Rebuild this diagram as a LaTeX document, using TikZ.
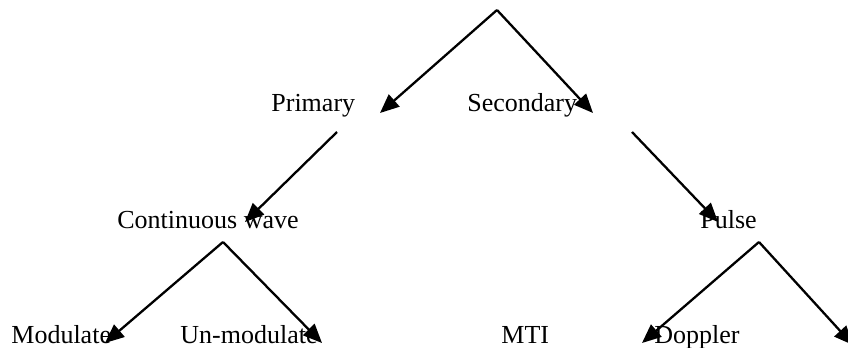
\documentclass[tikz,border=0pt]{standalone}
\usepackage{fontspec}
\setmainfont{Liberation Serif}
\usetikzlibrary{arrows.meta}

\begin{document}
\begin{tikzpicture}[x=0.5pt, y=-0.5pt, >={Triangle[length=9.5pt, width=8pt]},
  font=\fontsize{13}{15}\selectfont,
  lbl/.style={anchor=base west, inner sep=0pt},
  link/.style={->, line width=1.15pt}]
  \useasboundingbox (0,0) rectangle (848,348);
  % ---------------------------------------------------------------- labels
  \node[lbl] (primary)   at (271,112) {Primary};
  \node[lbl] (secondary) at (467,112) {Secondary};
  \node[lbl] (cw)        at (117,228) {Continuous wave};
  \node[lbl] (pulse)     at (700,228) {Pulse};
  \node[lbl] (modulated) at (11,343)  {Modulate};
  \node[lbl] (unmod)     at (180,343) {Un-modulate};
  \node[lbl] (mti)       at (501,343) {MTI};
  \node[lbl] (doppler)   at (654,343) {Doppler};
  % ---------------------------------------------------------------- branch points and tips
  \coordinate (top)     at (497,10);
  \coordinate (tprim)   at (380,113);
  \coordinate (tsec)    at (593,113);
  \coordinate (fprim)   at (337,132);
  \coordinate (tcw)     at (245,222);
  \coordinate (fsec)    at (632,132);
  \coordinate (tpulse)  at (718,222);
  \coordinate (fcw)     at (223,242);
  \coordinate (tmod)    at (105,343);
  \coordinate (tunmod)  at (322,343);
  \coordinate (fpulse)  at (759,242);
  \coordinate (tdop)    at (642,343);
  \coordinate (tedge)   at (853,345);
  % ---------------------------------------------------------------- arrows
  \draw[link] (top) -- (tprim);
  \draw[link] (top) -- (tsec);
  \draw[link] (fprim) -- (tcw);
  \draw[link] (fsec) -- (tpulse);
  \draw[link] (fcw) -- (tmod);
  \draw[link] (fcw) -- (tunmod);
  \draw[link] (fpulse) -- (tdop);
  \draw[link] (fpulse) -- (tedge);
\end{tikzpicture}
\end{document}
